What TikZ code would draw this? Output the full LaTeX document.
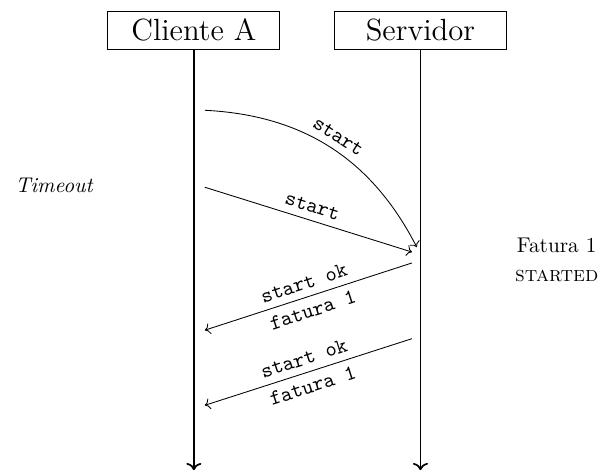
\documentclass[tikz,border=0pt]{standalone}
\usetikzlibrary{arrows.meta, positioning, calc}

\begin{document}
\begin{tikzpicture}[
  actor/.style={rectangle, draw, font=\Large, minimum width=2.84cm,
                minimum height=0.63cm},
  lifeline/.style={->, thick},
  msg/.style={->},
  msglbl/.style={font=\ttfamily, sloped}
]
  \useasboundingbox (-3.2,0.5) rectangle (6.72,-7.31);
  \node[actor] (cli) at (0,0) {Cliente A};
  \node[actor] (srv) at (3.74,0) {Servidor};
  \coordinate (cliend) at (0,-7.26);
  \coordinate (srvend) at (3.74,-7.26);
  \draw[lifeline] (cli) -- (cliend);
  \draw[lifeline] (srv) -- (srvend);

  \coordinate (m1s) at (0.18,-1.32);
  \coordinate (m1e) at (3.68,-3.58);
  \coordinate (m2s) at (0.18,-2.59);
  \coordinate (m2e) at (3.6,-3.66);
  \coordinate (m3s) at (3.6,-3.84);
  \coordinate (m3e) at (0.18,-4.95);
  \coordinate (m4s) at (3.6,-5.09);
  \coordinate (m4e) at (0.18,-6.19);

  \draw[msg] (m1s) to[bend left=30] node[msglbl, above] {start} (m1e);
  \draw[msg] (m2s) -- node[msglbl, above] {start} (m2e);
  \draw[msg] (m3s) -- node[msglbl, above] {start ok}
                      node[msglbl, below] {fatura 1} (m3e);
  \draw[msg] (m4s) -- node[msglbl, above] {start ok}
                      node[msglbl, below] {fatura 1} (m4e);

  \node (tmo) at (-2.3,-2.56) {\textit{Timeout}};
  \node (fat) at (5.99,-3.55) {Fatura 1};
  \node (stt) at (5.99,-4.06) {\textsc{started}};
\end{tikzpicture}
\end{document}
